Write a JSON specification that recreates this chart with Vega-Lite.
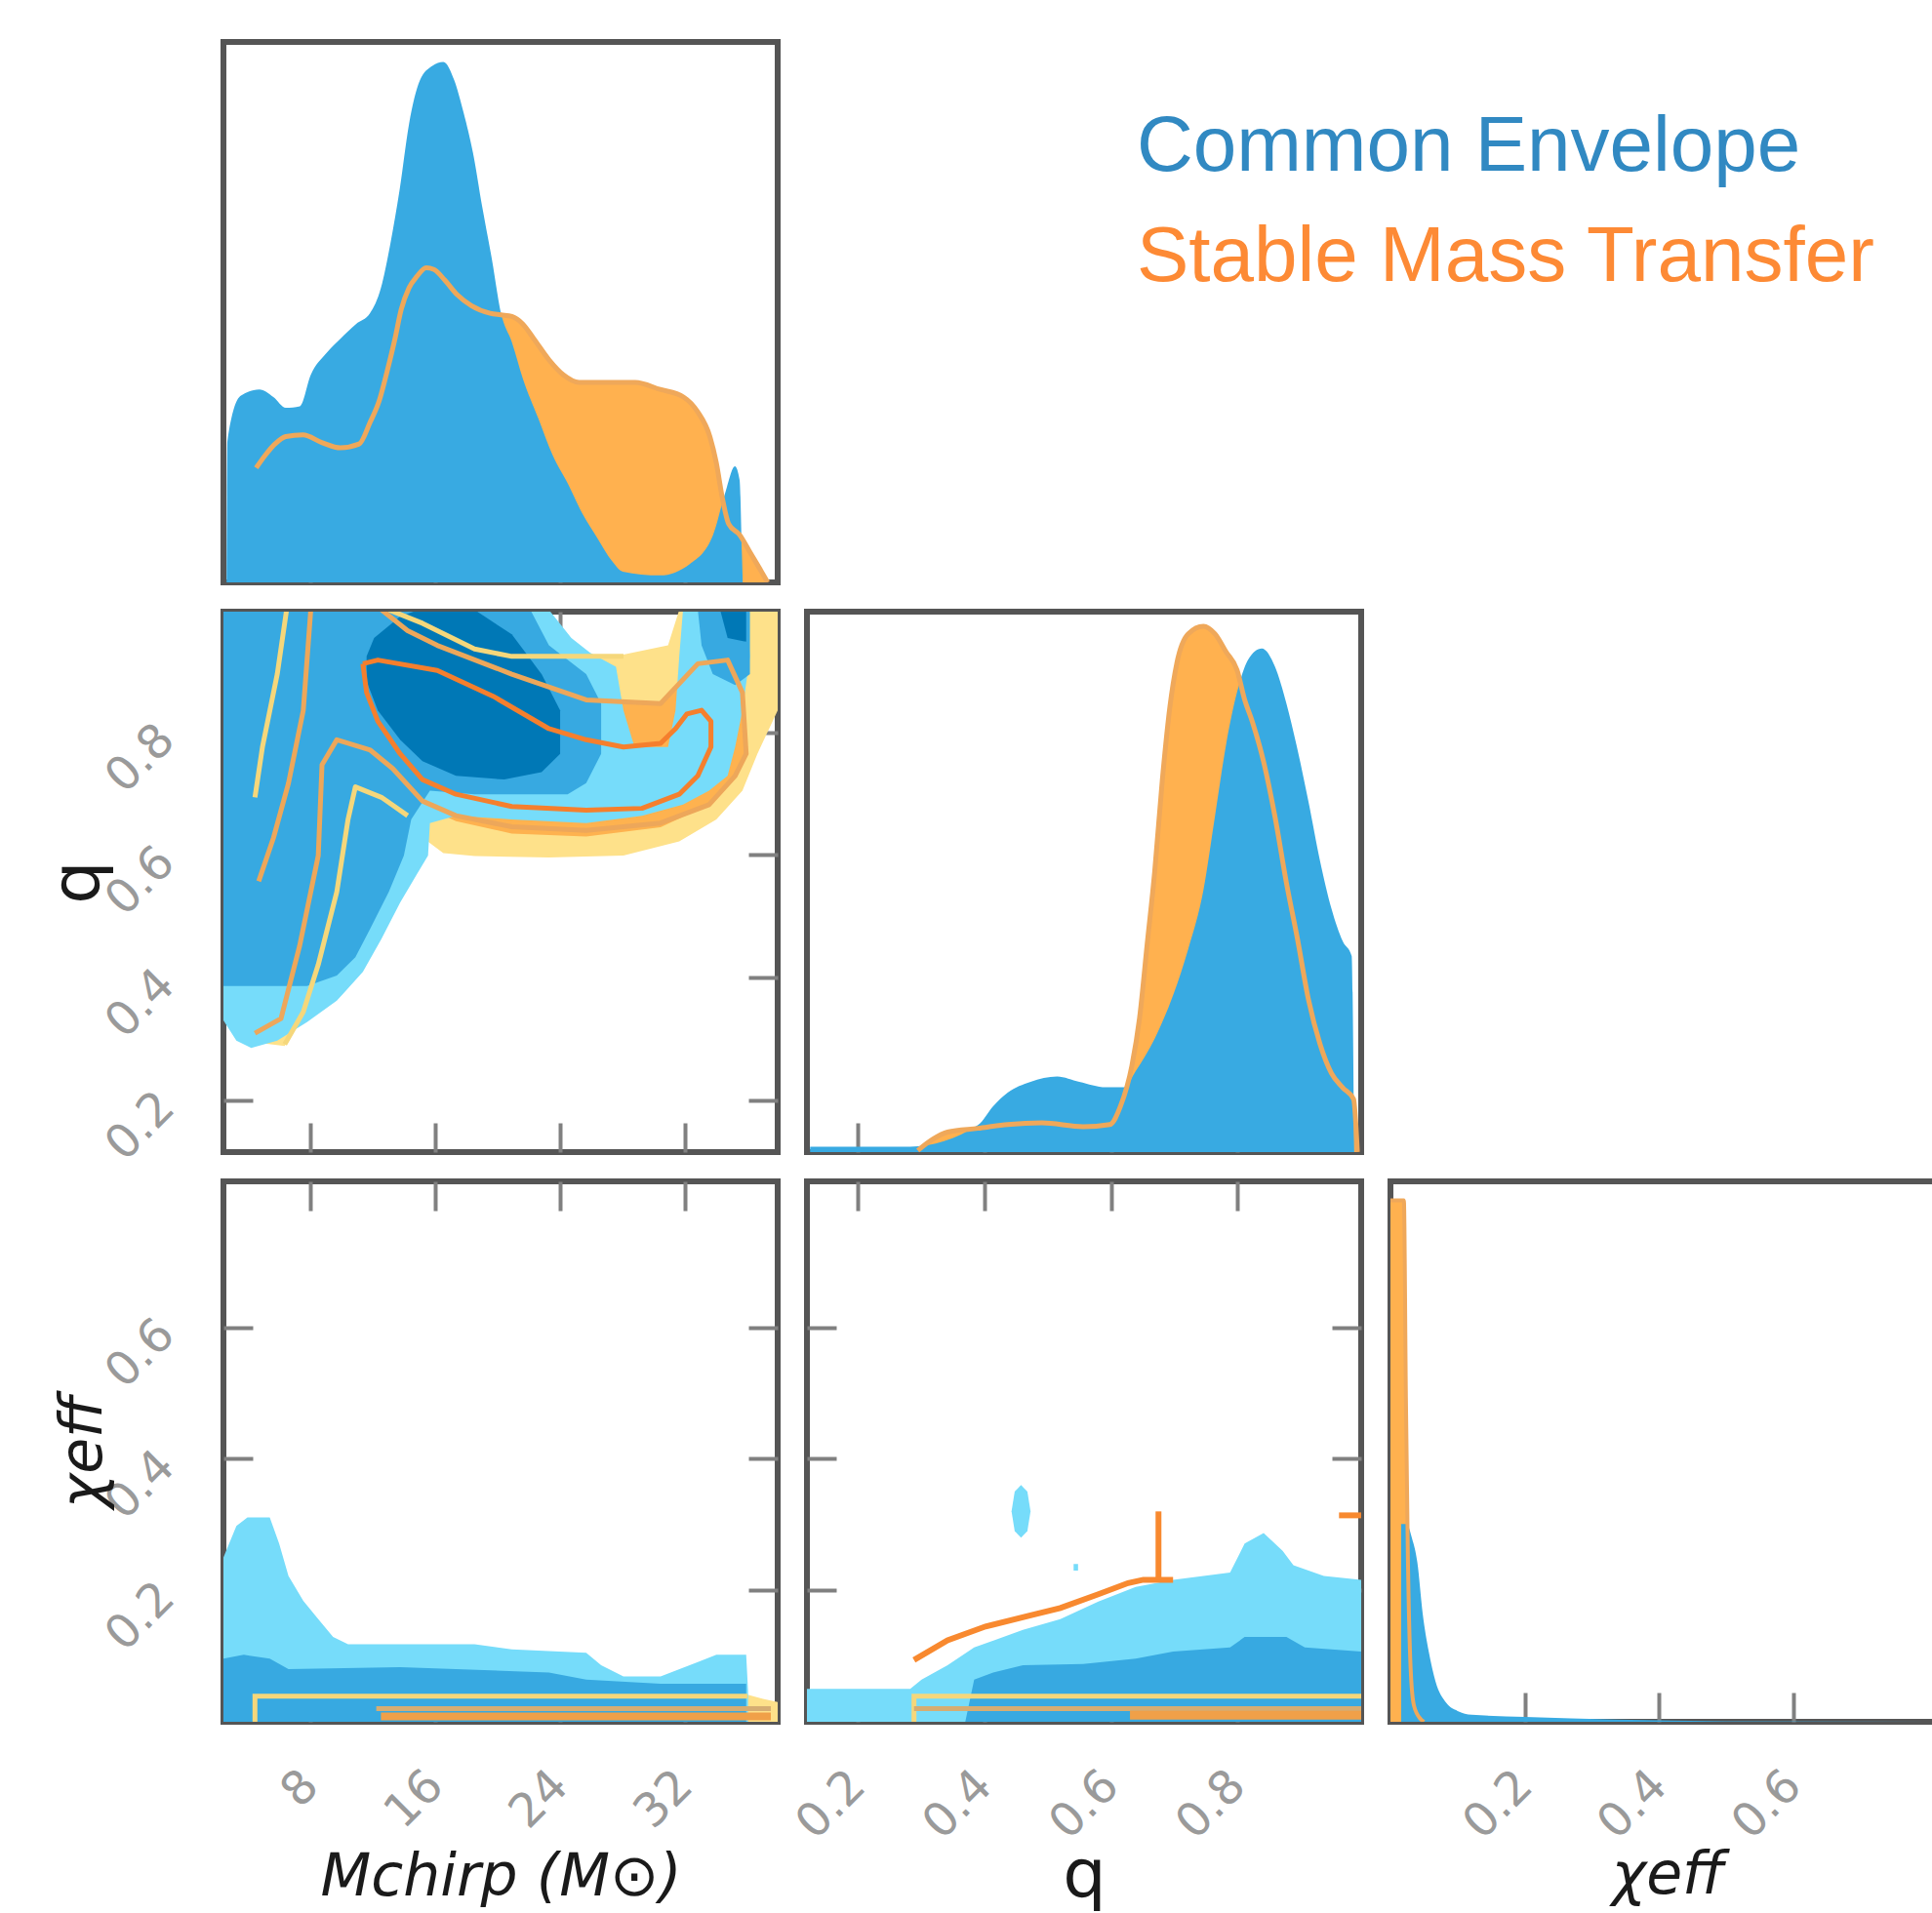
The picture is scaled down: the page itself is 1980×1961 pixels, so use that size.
{
"$schema":"https://vega.github.io/schema/vega-lite/v6.json",
"background":"white",
"autosize":{"type":"pad"},
"padding":{"left":42,"top":40,"right":0,"bottom":0},
"config":{
 "view":{"stroke":"#555555","strokeWidth":6},
 "axis":{"grid":false,"domain":false,"zindex":1,"tickSize":-30,"tickWidth":4,"tickColor":"#808080","labelColor":"#9a9a9a","labelFont":"DejaVu Sans","labelFontSize":48,"labelAngle":-45,"labelAlign":"right","labelBaseline":"middle","labelPadding":88,"labelOverlap":false,"labelFlush":false,"labelBound":false,"titleFont":"DejaVu Sans","titleFontSize":60,"titleFontWeight":"normal","titleFontStyle":"italic","titleColor":"#1a1a1a","titlePadding":10}
},
"datasets":{
 "d00ce":[{"x":2.6,"y":0},{"x":2.65,"y":0.26},{"x":3.5,"y":0.345},{"x":4.7,"y":0.357},{"x":5.6,"y":0.343},{"x":6.4,"y":0.323},{"x":7.3,"y":0.326},{"x":8.0,"y":0.384},{"x":9.0,"y":0.424},{"x":9.9,"y":0.451},{"x":10.9,"y":0.478},{"x":11.8,"y":0.498},{"x":12.5,"y":0.545},{"x":13.1,"y":0.626},{"x":13.7,"y":0.727},{"x":14.3,"y":0.848},{"x":15.0,"y":0.929},{"x":15.8,"y":0.956},{"x":16.5,"y":0.963},{"x":17.2,"y":0.929},{"x":17.8,"y":0.869},{"x":18.4,"y":0.795},{"x":19.0,"y":0.694},{"x":19.6,"y":0.6},{"x":20.2,"y":0.498},{"x":20.9,"y":0.444},{"x":21.6,"y":0.377},{"x":22.6,"y":0.303},{"x":23.5,"y":0.236},{"x":24.5,"y":0.182},{"x":25.4,"y":0.128},{"x":26.4,"y":0.081},{"x":27.3,"y":0.04},{"x":28.0,"y":0.02},{"x":30.4,"y":0.013},{"x":32.3,"y":0.034},{"x":33.8,"y":0.088},{"x":34.6,"y":0.168},{"x":35.2,"y":0.215},{"x":35.5,"y":0.189},{"x":35.65,"y":0.05},{"x":35.7,"y":0}],
 "d00smt":[{"x":4.5,"y":0.212},{"x":5.1,"y":0.236},{"x":5.7,"y":0.256},{"x":6.4,"y":0.27},{"x":7.5,"y":0.273},{"x":8.7,"y":0.259},{"x":9.9,"y":0.249},{"x":11.1,"y":0.256},{"x":11.8,"y":0.296},{"x":12.4,"y":0.337},{"x":12.9,"y":0.391},{"x":13.4,"y":0.451},{"x":13.8,"y":0.505},{"x":14.3,"y":0.545},{"x":14.8,"y":0.566},{"x":15.4,"y":0.582},{"x":15.9,"y":0.579},{"x":16.6,"y":0.559},{"x":17.4,"y":0.532},{"x":18.3,"y":0.512},{"x":19.5,"y":0.498},{"x":20.2,"y":0.495},{"x":20.9,"y":0.492},{"x":21.6,"y":0.478},{"x":22.3,"y":0.451},{"x":23.3,"y":0.411},{"x":24.2,"y":0.384},{"x":25.2,"y":0.37},{"x":26.8,"y":0.37},{"x":28.8,"y":0.37},{"x":30.4,"y":0.357},{"x":31.9,"y":0.343},{"x":32.8,"y":0.316},{"x":33.6,"y":0.269},{"x":34.0,"y":0.222},{"x":34.4,"y":0.155},{"x":34.8,"y":0.108},{"x":35.5,"y":0.088},{"x":36.2,"y":0.054},{"x":36.9,"y":0.02},{"x":37.3,"y":0}],
 "d11ce":[{"x":0.125,"y":0.01},{"x":0.283,"y":0.01},{"x":0.39,"y":0.05},{"x":0.414,"y":0.085},{"x":0.437,"y":0.11},{"x":0.473,"y":0.13},{"x":0.515,"y":0.14},{"x":0.55,"y":0.13},{"x":0.592,"y":0.12},{"x":0.621,"y":0.12},{"x":0.639,"y":0.15},{"x":0.669,"y":0.21},{"x":0.698,"y":0.29},{"x":0.722,"y":0.376},{"x":0.746,"y":0.485},{"x":0.764,"y":0.62},{"x":0.782,"y":0.756},{"x":0.799,"y":0.851},{"x":0.817,"y":0.912},{"x":0.838,"y":0.932},{"x":0.859,"y":0.898},{"x":0.877,"y":0.83},{"x":0.895,"y":0.742},{"x":0.912,"y":0.647},{"x":0.93,"y":0.539},{"x":0.948,"y":0.451},{"x":0.966,"y":0.39},{"x":0.98,"y":0.363},{"x":0.984,"y":0}],
 "d11smt":[{"x":0.295,"y":0.003},{"x":0.319,"y":0.024},{"x":0.342,"y":0.037},{"x":0.39,"y":0.044},{"x":0.437,"y":0.051},{"x":0.491,"y":0.054},{"x":0.556,"y":0.047},{"x":0.598,"y":0.051},{"x":0.615,"y":0.085},{"x":0.633,"y":0.16},{"x":0.645,"y":0.247},{"x":0.657,"y":0.383},{"x":0.669,"y":0.519},{"x":0.681,"y":0.688},{"x":0.693,"y":0.824},{"x":0.704,"y":0.905},{"x":0.722,"y":0.959},{"x":0.746,"y":0.973},{"x":0.764,"y":0.959},{"x":0.782,"y":0.925},{"x":0.799,"y":0.892},{"x":0.811,"y":0.837},{"x":0.823,"y":0.797},{"x":0.841,"y":0.722},{"x":0.859,"y":0.62},{"x":0.877,"y":0.498},{"x":0.894,"y":0.397},{"x":0.912,"y":0.281},{"x":0.93,"y":0.2},{"x":0.948,"y":0.146},{"x":0.966,"y":0.119},{"x":0.983,"y":0.098},{"x":0.989,"y":0}],
 "d22ce":[{"x":0.016,"y":0.366},{"x":0.024,"y":0.366},{"x":0.032,"y":0.34},{"x":0.04,"y":0.295},{"x":0.048,"y":0.2},{"x":0.057,"y":0.13},{"x":0.067,"y":0.075},{"x":0.083,"y":0.035},{"x":0.1,"y":0.02},{"x":0.121,"y":0.013},{"x":0.2,"y":0.009},{"x":0.337,"y":0.004},{"x":0.5,"y":0.001},{"x":0.82,"y":0}],
 "d22smt":[{"x":0,"y":0.965},{"x":0.02,"y":0.965},{"x":0.023,"y":0.6},{"x":0.026,"y":0.3},{"x":0.03,"y":0.1},{"x":0.035,"y":0.03},{"x":0.045,"y":0.005},{"x":0.05,"y":0}],
 "d10s1":[{"o":1,"x":6.57,"y":1.0},{"o":2,"x":13.01,"y":1.0},{"o":3,"x":16.11,"y":0.954},{"o":4,"x":20.89,"y":0.924},{"o":5,"x":24.47,"y":0.924},{"o":6,"x":28.05,"y":0.927},{"o":7,"x":30.91,"y":0.942},{"o":8,"x":31.63,"y":1.0},{"o":9,"x":37.94,"y":1.0},{"o":10,"x":37.94,"y":0.836},{"o":11,"x":36.64,"y":0.765},{"o":12,"x":35.68,"y":0.705},{"o":13,"x":34.01,"y":0.658},{"o":14,"x":31.63,"y":0.622},{"o":15,"x":28.05,"y":0.599},{"o":16,"x":23.27,"y":0.596},{"o":17,"x":18.5,"y":0.598},{"o":18,"x":16.5,"y":0.603},{"o":19,"x":15.6,"y":0.62},{"o":20,"x":14.21,"y":0.658},{"o":21,"x":12.53,"y":0.69},{"o":22,"x":10.86,"y":0.711},{"o":23,"x":10.39,"y":0.682},{"o":24,"x":9.67,"y":0.54},{"o":25,"x":8.48,"y":0.421},{"o":26,"x":7.52,"y":0.344},{"o":27,"x":6.33,"y":0.288},{"o":28,"x":4.42,"y":0.294},{"o":29,"x":4.18,"y":0.48},{"o":30,"x":4.42,"y":0.694},{"o":31,"x":5.85,"y":0.895}],
 "d10s2":[{"o":1,"x":8.0,"y":1.0},{"o":2,"x":12.53,"y":1.0},{"o":3,"x":14.21,"y":0.966},{"o":4,"x":16.11,"y":0.942},{"o":5,"x":20.89,"y":0.895},{"o":6,"x":25.66,"y":0.853},{"o":7,"x":30.43,"y":0.847},{"o":8,"x":32.82,"y":0.912},{"o":9,"x":34.73,"y":0.918},{"o":10,"x":35.68,"y":0.865},{"o":11,"x":35.92,"y":0.765},{"o":12,"x":35.21,"y":0.729},{"o":13,"x":33.54,"y":0.682},{"o":14,"x":30.43,"y":0.645},{"o":15,"x":25.66,"y":0.63},{"o":16,"x":20.89,"y":0.635},{"o":17,"x":17.31,"y":0.655},{"o":18,"x":15.16,"y":0.68},{"o":19,"x":13.25,"y":0.741},{"o":20,"x":11.82,"y":0.771},{"o":21,"x":9.67,"y":0.788},{"o":22,"x":8.72,"y":0.747},{"o":23,"x":8.48,"y":0.599},{"o":24,"x":7.28,"y":0.451},{"o":25,"x":6.09,"y":0.333},{"o":26,"x":4.42,"y":0.309},{"o":27,"x":4.66,"y":0.557},{"o":28,"x":5.61,"y":0.628},{"o":29,"x":6.57,"y":0.717},{"o":30,"x":7.52,"y":0.836}],
 "d10ce1":[{"o":1,"x":2.4,"y":1.0},{"o":2,"x":23.27,"y":1.0},{"o":3,"x":24.71,"y":0.954},{"o":4,"x":25.9,"y":0.93},{"o":5,"x":27.57,"y":0.907},{"o":6,"x":28.05,"y":0.836},{"o":7,"x":28.76,"y":0.776},{"o":8,"x":30.91,"y":0.776},{"o":9,"x":31.39,"y":0.836},{"o":10,"x":31.63,"y":0.924},{"o":11,"x":31.87,"y":1.0},{"o":12,"x":35.92,"y":1.0},{"o":13,"x":36.16,"y":0.924},{"o":14,"x":35.68,"y":0.836},{"o":15,"x":35.21,"y":0.776},{"o":16,"x":34.73,"y":0.729},{"o":17,"x":33.54,"y":0.705},{"o":18,"x":31.87,"y":0.682},{"o":19,"x":29.24,"y":0.664},{"o":20,"x":25.66,"y":0.652},{"o":21,"x":20.89,"y":0.658},{"o":22,"x":17.31,"y":0.664},{"o":23,"x":15.64,"y":0.652},{"o":24,"x":15.52,"y":0.599},{"o":25,"x":14.68,"y":0.563},{"o":26,"x":13.73,"y":0.522},{"o":27,"x":12.53,"y":0.463},{"o":28,"x":11.34,"y":0.409},{"o":29,"x":9.67,"y":0.362},{"o":30,"x":7.76,"y":0.327},{"o":31,"x":5.85,"y":0.297},{"o":32,"x":4.18,"y":0.285},{"o":33,"x":3.23,"y":0.297},{"o":34,"x":2.4,"y":0.33}],
 "d10ce2":[{"p":"a","o":1,"x":2.4,"y":1.0},{"p":"a","o":2,"x":22.08,"y":1.0},{"p":"a","o":3,"x":23.27,"y":0.942},{"p":"a","o":4,"x":25.66,"y":0.895},{"p":"a","o":5,"x":26.62,"y":0.847},{"p":"a","o":6,"x":26.62,"y":0.765},{"p":"a","o":7,"x":25.66,"y":0.717},{"p":"a","o":8,"x":24.47,"y":0.699},{"p":"a","o":9,"x":18.5,"y":0.699},{"p":"a","o":10,"x":15.64,"y":0.705},{"p":"a","o":11,"x":14.44,"y":0.658},{"p":"a","o":12,"x":13.97,"y":0.599},{"p":"a","o":13,"x":13.01,"y":0.54},{"p":"a","o":14,"x":11.82,"y":0.48},{"p":"a","o":15,"x":10.86,"y":0.433},{"p":"a","o":16,"x":9.67,"y":0.403},{"p":"a","o":17,"x":7.76,"y":0.386},{"p":"a","o":18,"x":5.61,"y":0.386},{"p":"a","o":19,"x":2.4,"y":0.386},
  {"p":"b","o":1,"x":32.82,"y":1.0},{"p":"b","o":2,"x":36.16,"y":1.0},{"p":"b","o":3,"x":36.16,"y":0.895},{"p":"b","o":4,"x":35.21,"y":0.877},{"p":"b","o":5,"x":33.78,"y":0.895},{"p":"b","o":6,"x":33.06,"y":0.942}],
 "d10ce3":[{"p":"a","o":1,"x":11.58,"y":0.924},{"p":"a","o":2,"x":12.06,"y":0.954},{"p":"a","o":3,"x":13.73,"y":0.989},{"p":"a","o":4,"x":14.92,"y":1.0},{"p":"a","o":5,"x":18.5,"y":1.0},{"p":"a","o":6,"x":20.89,"y":0.96},{"p":"a","o":7,"x":22.8,"y":0.895},{"p":"a","o":8,"x":23.99,"y":0.836},{"p":"a","o":9,"x":23.99,"y":0.765},{"p":"a","o":10,"x":22.8,"y":0.735},{"p":"a","o":11,"x":20.41,"y":0.723},{"p":"a","o":12,"x":17.31,"y":0.729},{"p":"a","o":13,"x":15.16,"y":0.753},{"p":"a","o":14,"x":13.73,"y":0.788},{"p":"a","o":15,"x":12.3,"y":0.836},{"p":"a","o":16,"x":11.58,"y":0.883},
  {"p":"b","o":1,"x":34.25,"y":1.0},{"p":"b","o":2,"x":35.92,"y":1.0},{"p":"b","o":3,"x":35.92,"y":0.948},{"p":"b","o":4,"x":34.73,"y":0.954}],
 "d10ly":[{"p":"A","o":1,"x":6.45,"y":1.0},{"p":"A","o":2,"x":5.85,"y":0.895},{"p":"A","o":3,"x":4.9,"y":0.776},{"p":"A","o":4,"x":4.42,"y":0.694},
  {"p":"B","o":1,"x":13.01,"y":1.0},{"p":"B","o":2,"x":15.16,"y":0.978},{"p":"B","o":3,"x":18.5,"y":0.936},{"p":"B","o":4,"x":20.89,"y":0.924},{"p":"B","o":5,"x":28.05,"y":0.924},
  {"p":"C","o":1,"x":14.21,"y":0.664},{"p":"C","o":2,"x":12.53,"y":0.694},{"p":"C","o":3,"x":10.86,"y":0.711},{"p":"C","o":4,"x":10.39,"y":0.658},{"p":"C","o":5,"x":9.67,"y":0.54},{"p":"C","o":6,"x":8.48,"y":0.421},{"p":"C","o":7,"x":7.52,"y":0.344},{"p":"C","o":8,"x":6.33,"y":0.291}],
 "d10lt":[{"p":"D","o":1,"x":8.0,"y":1.0},{"p":"D","o":2,"x":7.52,"y":0.836},{"p":"D","o":3,"x":6.57,"y":0.717},{"p":"D","o":4,"x":5.61,"y":0.628},{"p":"D","o":5,"x":4.66,"y":0.557},
  {"p":"E","o":2,"x":12.53,"y":1.0},{"p":"E","o":3,"x":14.21,"y":0.966},{"p":"E","o":4,"x":16.11,"y":0.942},{"p":"E","o":5,"x":20.89,"y":0.895},{"p":"E","o":6,"x":25.66,"y":0.853},{"p":"E","o":7,"x":30.43,"y":0.847},{"p":"E","o":8,"x":32.82,"y":0.912},{"p":"E","o":9,"x":34.73,"y":0.918},{"p":"E","o":10,"x":35.68,"y":0.865},{"p":"E","o":11,"x":35.92,"y":0.765},{"p":"E","o":12,"x":35.21,"y":0.729},{"p":"E","o":13,"x":33.54,"y":0.682},{"p":"E","o":14,"x":30.43,"y":0.652},{"p":"E","o":15,"x":25.66,"y":0.64},{"p":"E","o":16,"x":20.89,"y":0.646},{"p":"E","o":17,"x":17.31,"y":0.664},{"p":"E","o":18,"x":15.16,"y":0.688},{"p":"E","o":19,"x":13.25,"y":0.741},{"p":"E","o":20,"x":11.82,"y":0.771},{"p":"E","o":21,"x":9.67,"y":0.788},{"p":"E","o":22,"x":8.72,"y":0.747},{"p":"E","o":23,"x":8.48,"y":0.599},{"p":"E","o":24,"x":7.28,"y":0.451},{"p":"E","o":25,"x":6.09,"y":0.333},{"p":"E","o":26,"x":4.42,"y":0.309}],
 "d10lo":[{"o":1,"x":11.34,"y":0.912},{"o":2,"x":12.3,"y":0.918},{"o":3,"x":16.11,"y":0.901},{"o":4,"x":19.69,"y":0.859},{"o":5,"x":23.27,"y":0.806},{"o":6,"x":25.66,"y":0.788},{"o":7,"x":28.05,"y":0.776},{"o":8,"x":30.43,"y":0.782},{"o":9,"x":31.39,"y":0.806},{"o":10,"x":32.11,"y":0.83},{"o":11,"x":33.06,"y":0.836},{"o":12,"x":33.66,"y":0.818},{"o":13,"x":33.66,"y":0.776},{"o":14,"x":32.82,"y":0.729},{"o":15,"x":31.63,"y":0.699},{"o":16,"x":29.24,"y":0.676},{"o":17,"x":25.66,"y":0.673},{"o":18,"x":20.89,"y":0.679},{"o":19,"x":17.31,"y":0.699},{"o":20,"x":15.16,"y":0.723},{"o":21,"x":13.73,"y":0.765},{"o":22,"x":12.3,"y":0.818},{"o":23,"x":11.58,"y":0.865},{"o":24,"x":11.34,"y":0.912}],
 "d20s1":[{"o":1,"x":4.42,"y":0},{"o":2,"x":4.42,"y":0.042},{"o":3,"x":35.9,"y":0.042},{"o":4,"x":37.0,"y":0.035},{"o":5,"x":37.94,"y":0.03},{"o":6,"x":37.94,"y":0}],
 "d20ce1":[{"o":1,"x":2.4,"y":0.25},{"o":2,"x":3.23,"y":0.298},{"o":3,"x":3.94,"y":0.311},{"o":4,"x":5.37,"y":0.311},{"o":5,"x":5.97,"y":0.271},{"o":6,"x":6.57,"y":0.222},{"o":7,"x":7.52,"y":0.184},{"o":8,"x":8.48,"y":0.156},{"o":9,"x":9.43,"y":0.129},{"o":10,"x":10.39,"y":0.118},{"o":11,"x":13.73,"y":0.118},{"o":12,"x":18.5,"y":0.118},{"o":13,"x":20.89,"y":0.11},{"o":14,"x":25.66,"y":0.105},{"o":15,"x":26.62,"y":0.086},{"o":16,"x":28.05,"y":0.069},{"o":17,"x":30.43,"y":0.069},{"o":18,"x":32.82,"y":0.091},{"o":19,"x":34.01,"y":0.102},{"o":20,"x":35.92,"y":0.102},{"o":21,"x":36.04,"y":0.047},{"o":22,"x":36.04,"y":0},{"o":23,"x":2.4,"y":0}],
 "d20ce2":[{"o":1,"x":2.4,"y":0.096},{"o":2,"x":3.7,"y":0.102},{"o":3,"x":5.37,"y":0.096},{"o":4,"x":6.57,"y":0.08},{"o":5,"x":13.73,"y":0.083},{"o":6,"x":23.27,"y":0.075},{"o":7,"x":25.66,"y":0.064},{"o":8,"x":30.43,"y":0.058},{"o":9,"x":35.92,"y":0.058},{"o":10,"x":35.92,"y":0},{"o":11,"x":2.4,"y":0}],
 "d20ly":[{"o":1,"x":4.42,"y":0},{"o":2,"x":4.42,"y":0.039},{"o":3,"x":36.0,"y":0.039}],
 "d20lt":[{"o":1,"x":12.2,"y":0.02},{"o":2,"x":37.5,"y":0.02}],
 "d20lo":[{"o":1,"x":12.5,"y":0.008},{"o":2,"x":37.5,"y":0.008}],
 "d21s1":[{"o":1,"x":0.289,"y":0},{"o":2,"x":0.289,"y":0.042},{"o":3,"x":0.995,"y":0.042},{"o":4,"x":0.995,"y":0}],
 "d21ce1":[{"p":"m","o":1,"x":0.12,"y":0},{"p":"m","o":2,"x":0.12,"y":0.05},{"p":"m","o":3,"x":0.283,"y":0.05},{"p":"m","o":4,"x":0.301,"y":0.064},{"p":"m","o":5,"x":0.342,"y":0.086},{"p":"m","o":6,"x":0.384,"y":0.113},{"p":"m","o":7,"x":0.461,"y":0.14},{"p":"m","o":8,"x":0.52,"y":0.156},{"p":"m","o":9,"x":0.58,"y":0.183},{"p":"m","o":10,"x":0.639,"y":0.205},{"p":"m","o":11,"x":0.698,"y":0.216},{"p":"m","o":12,"x":0.788,"y":0.227},{"p":"m","o":13,"x":0.811,"y":0.271},{"p":"m","o":14,"x":0.841,"y":0.287},{"p":"m","o":15,"x":0.871,"y":0.26},{"p":"m","o":16,"x":0.888,"y":0.238},{"p":"m","o":17,"x":0.936,"y":0.222},{"p":"m","o":18,"x":0.995,"y":0.216},{"p":"m","o":19,"x":0.995,"y":0},
  {"p":"b","o":1,"x":0.458,"y":0.36},{"p":"b","o":2,"x":0.468,"y":0.35},{"p":"b","o":3,"x":0.473,"y":0.32},{"p":"b","o":4,"x":0.468,"y":0.29},{"p":"b","o":5,"x":0.458,"y":0.28},{"p":"b","o":6,"x":0.448,"y":0.29},{"p":"b","o":7,"x":0.443,"y":0.32},{"p":"b","o":8,"x":0.448,"y":0.35},
  {"p":"d","o":1,"x":0.541,"y":0.24},{"p":"d","o":2,"x":0.548,"y":0.24},{"p":"d","o":3,"x":0.548,"y":0.23},{"p":"d","o":4,"x":0.541,"y":0.23}],
 "d21ce2":[{"o":1,"x":0.37,"y":0},{"o":2,"x":0.384,"y":0.064},{"o":3,"x":0.414,"y":0.075},{"o":4,"x":0.461,"y":0.086},{"o":5,"x":0.556,"y":0.088},{"o":6,"x":0.639,"y":0.096},{"o":7,"x":0.698,"y":0.107},{"o":8,"x":0.788,"y":0.113},{"o":9,"x":0.811,"y":0.129},{"o":10,"x":0.877,"y":0.129},{"o":11,"x":0.906,"y":0.113},{"o":12,"x":0.995,"y":0.107},{"o":13,"x":0.995,"y":0}],
 "d21ly":[{"o":1,"x":0.289,"y":0},{"o":2,"x":0.289,"y":0.039},{"o":3,"x":0.995,"y":0.039}],
 "d21lt":[{"o":1,"x":0.289,"y":0.02},{"o":2,"x":0.995,"y":0.02}],
 "d21lob":[{"o":1,"x":0.63,"y":0.01},{"o":2,"x":0.995,"y":0.01}],
 "d21lo":[{"p":"g","o":1,"x":0.289,"y":0.094},{"p":"g","o":2,"x":0.342,"y":0.124},{"p":"g","o":3,"x":0.402,"y":0.145},{"p":"g","o":4,"x":0.473,"y":0.162},{"p":"g","o":5,"x":0.52,"y":0.173},{"p":"g","o":6,"x":0.58,"y":0.194},{"p":"g","o":7,"x":0.627,"y":0.211},{"p":"g","o":8,"x":0.651,"y":0.216},{"p":"g","o":9,"x":0.698,"y":0.216},
  {"p":"v","o":1,"x":0.675,"y":0.32},{"p":"v","o":2,"x":0.675,"y":0.216},
  {"p":"s","o":1,"x":0.96,"y":0.314},{"p":"s","o":2,"x":0.995,"y":0.314}],
 "legend":[{"t":"Common Envelope","px":0.595,"py":0.761,"c":"CE"},{"t":"Stable Mass Transfer","px":0.595,"py":0.557,"c":"SMT"}]
},
"columns":3,
"spacing":{"row":30,"column":30},
"bounds":"flush",
"concat":[
 {"width":568,"height":554,
  "resolve":{"axis":{"x":"independent","y":"independent"}},
  "layer":[
   {"data":{"name":"d00smt"},"mark":{"type":"area","color":"#ffb14f","interpolate":"monotone","clip":true},
    "encoding":{"x":{"field":"x","type":"quantitative","scale":{"domain":[2.4,37.94],"nice":false,"zero":false},"axis":{"orient":"bottom","values":[8,16,24,32],"labels":false,"title":null}},
                "y":{"field":"y","type":"quantitative","scale":{"domain":[0,1],"nice":false},"axis":null}}},
   {"data":{"name":"d00ce"},"mark":{"type":"area","color":"#38aae2","interpolate":"monotone","clip":true},
    "encoding":{"x":{"field":"x","type":"quantitative","axis":null},"y":{"field":"y","type":"quantitative","axis":null}}},
   {"data":{"name":"d00smt"},"mark":{"type":"line","color":"#efa85a","strokeWidth":5,"interpolate":"monotone","clip":true},
    "encoding":{"x":{"field":"x","type":"quantitative","axis":null},"y":{"field":"y","type":"quantitative","axis":null}}}
  ]},
 {"width":568,"height":554,"view":{"stroke":null},
  "data":{"name":"legend"},
  "mark":{"type":"text","align":"left","baseline":"alphabetic","font":"Liberation Sans","fontSize":80},
  "encoding":{"x":{"field":"px","type":"quantitative","scale":{"domain":[0,1]},"axis":null},
              "y":{"field":"py","type":"quantitative","scale":{"domain":[0,1]},"axis":null},
              "text":{"field":"t"},
              "color":{"field":"c","type":"nominal","scale":{"domain":["CE","SMT"],"range":["#3189c2","#fd8a35"]},"legend":null}}},
 {"width":568,"height":554,"view":{"stroke":null},"data":{"values":[]},"mark":"point"},
 {"width":568,"height":554,
  "resolve":{"axis":{"x":"independent","y":"independent"}},
  "layer":[
   {"data":{"name":"d10s1"},"mark":{"type":"line","filled":true,"color":"#fee18a","clip":true},
    "encoding":{"x":{"field":"x","type":"quantitative","scale":{"domain":[2.4,37.94],"nice":false,"zero":false},"axis":{"orient":"bottom","values":[8,16,24,32],"labels":false,"title":null}},
                "y":{"field":"y","type":"quantitative","scale":{"domain":[0.115,0.997],"nice":false,"zero":false},"axis":{"orient":"left","values":[0.2,0.4,0.6,0.8],"format":".1f","title":"q","titleFontStyle":"normal","titleFontSize":70,"titlePadding":-16}},
                "order":{"field":"o"}}},
   {"data":{"name":"d10s2"},"mark":{"type":"line","filled":true,"color":"#feb24f","clip":true},
    "encoding":{"x":{"field":"x","type":"quantitative","axis":null},"y":{"field":"y","type":"quantitative","axis":null},"order":{"field":"o"}}},
   {"data":{"name":"d10ce1"},"mark":{"type":"line","filled":true,"color":"#76dcfa","clip":true},
    "encoding":{"x":{"field":"x","type":"quantitative","axis":null},"y":{"field":"y","type":"quantitative","axis":null},"order":{"field":"o"}}},
   {"data":{"name":"d10ce2"},"mark":{"type":"line","filled":true,"color":"#37a9e1","clip":true},
    "encoding":{"x":{"field":"x","type":"quantitative","axis":null},"y":{"field":"y","type":"quantitative","axis":null},"order":{"field":"o"},"detail":{"field":"p"}}},
   {"data":{"name":"d10ce3"},"mark":{"type":"line","filled":true,"color":"#0078b6","clip":true},
    "encoding":{"x":{"field":"x","type":"quantitative","axis":null},"y":{"field":"y","type":"quantitative","axis":null},"order":{"field":"o"},"detail":{"field":"p"}}},
   {"data":{"name":"d10ly"},"mark":{"type":"line","color":"#f5d77b","strokeWidth":5,"strokeJoin":"round","clip":true},
    "encoding":{"x":{"field":"x","type":"quantitative","axis":null},"y":{"field":"y","type":"quantitative","axis":null},"order":{"field":"o"},"detail":{"field":"p"}}},
   {"data":{"name":"d10lt"},"mark":{"type":"line","color":"#eda75a","strokeWidth":5,"strokeJoin":"round","clip":true},
    "encoding":{"x":{"field":"x","type":"quantitative","axis":null},"y":{"field":"y","type":"quantitative","axis":null},"order":{"field":"o"},"detail":{"field":"p"}}},
   {"data":{"name":"d10lo"},"mark":{"type":"line","color":"#f57f2d","strokeWidth":5,"strokeJoin":"round","clip":true},
    "encoding":{"x":{"field":"x","type":"quantitative","axis":{"orient":"top","values":[8,16,24,32],"labels":false,"title":null}},
                "y":{"field":"y","type":"quantitative","axis":{"orient":"right","values":[0.2,0.4,0.6,0.8],"labels":false,"title":null}},
                "order":{"field":"o"}}}
  ]},
 {"width":568,"height":554,
  "resolve":{"axis":{"x":"independent","y":"independent"}},
  "layer":[
   {"data":{"name":"d11smt"},"mark":{"type":"area","color":"#ffb14f","interpolate":"monotone","clip":true},
    "encoding":{"x":{"field":"x","type":"quantitative","scale":{"domain":[0.12,0.995],"nice":false,"zero":false},"axis":{"orient":"bottom","values":[0.2,0.4,0.6,0.8],"labels":false,"title":null}},
                "y":{"field":"y","type":"quantitative","scale":{"domain":[0,1],"nice":false},"axis":null}}},
   {"data":{"name":"d11ce"},"mark":{"type":"area","color":"#38aae2","interpolate":"monotone","clip":true},
    "encoding":{"x":{"field":"x","type":"quantitative","axis":null},"y":{"field":"y","type":"quantitative","axis":null}}},
   {"data":{"name":"d11smt"},"mark":{"type":"line","color":"#efa85a","strokeWidth":5,"interpolate":"monotone","clip":true},
    "encoding":{"x":{"field":"x","type":"quantitative","axis":null},"y":{"field":"y","type":"quantitative","axis":null}}}
  ]},
 {"width":568,"height":554,"view":{"stroke":null},"data":{"values":[]},"mark":"point"},
 {"width":568,"height":554,
  "resolve":{"axis":{"x":"independent","y":"independent"}},
  "layer":[
   {"data":{"name":"d20s1"},"mark":{"type":"line","filled":true,"color":"#fee18a","clip":true},
    "encoding":{"x":{"field":"x","type":"quantitative","scale":{"domain":[2.4,37.94],"nice":false,"zero":false},"axis":{"orient":"bottom","values":[8,16,24,32],"format":"d","title":"Mchirp (M⊙)","titlePadding":12}},
                "y":{"field":"y","type":"quantitative","scale":{"domain":[0,0.822],"nice":false,"zero":false},"axis":{"orient":"left","values":[0.2,0.4,0.6],"format":".1f","title":"χeff","titlePadding":-16}},
                "order":{"field":"o"}}},
   {"data":{"name":"d20ce1"},"mark":{"type":"line","filled":true,"color":"#76dcfa","clip":true},
    "encoding":{"x":{"field":"x","type":"quantitative","axis":null},"y":{"field":"y","type":"quantitative","axis":null},"order":{"field":"o"}}},
   {"data":{"name":"d20ce2"},"mark":{"type":"line","filled":true,"color":"#37a9e1","clip":true},
    "encoding":{"x":{"field":"x","type":"quantitative","axis":null},"y":{"field":"y","type":"quantitative","axis":null},"order":{"field":"o"}}},
   {"data":{"name":"d20ly"},"mark":{"type":"line","color":"#f5d77b","strokeWidth":5,"clip":true},
    "encoding":{"x":{"field":"x","type":"quantitative","axis":null},"y":{"field":"y","type":"quantitative","axis":null},"order":{"field":"o"}}},
   {"data":{"name":"d20lt"},"mark":{"type":"line","color":"#d6ad72","strokeWidth":5,"clip":true},
    "encoding":{"x":{"field":"x","type":"quantitative","axis":null},"y":{"field":"y","type":"quantitative","axis":null},"order":{"field":"o"}}},
   {"data":{"name":"d20lo"},"mark":{"type":"line","color":"#f0a048","strokeWidth":8,"clip":true},
    "encoding":{"x":{"field":"x","type":"quantitative","axis":{"orient":"top","values":[8,16,24,32],"labels":false,"title":null}},
                "y":{"field":"y","type":"quantitative","axis":{"orient":"right","values":[0.2,0.4,0.6],"labels":false,"title":null}},
                "order":{"field":"o"}}}
  ]},
 {"width":568,"height":554,
  "resolve":{"axis":{"x":"independent","y":"independent"}},
  "layer":[
   {"data":{"name":"d21s1"},"mark":{"type":"line","filled":true,"color":"#fee18a","clip":true},
    "encoding":{"x":{"field":"x","type":"quantitative","scale":{"domain":[0.12,0.995],"nice":false,"zero":false},"axis":{"orient":"bottom","values":[0.2,0.4,0.6,0.8],"format":".1f","title":"q","titleFontStyle":"normal","titleFontSize":70,"titlePadding":-4}},
                "y":{"field":"y","type":"quantitative","scale":{"domain":[0,0.822],"nice":false,"zero":false},"axis":{"orient":"left","values":[0.2,0.4,0.6],"labels":false,"title":null}},
                "order":{"field":"o"}}},
   {"data":{"name":"d21ce1"},"mark":{"type":"line","filled":true,"color":"#76dcfa","clip":true},
    "encoding":{"x":{"field":"x","type":"quantitative","axis":null},"y":{"field":"y","type":"quantitative","axis":null},"order":{"field":"o"},"detail":{"field":"p"}}},
   {"data":{"name":"d21ce2"},"mark":{"type":"line","filled":true,"color":"#37a9e1","clip":true},
    "encoding":{"x":{"field":"x","type":"quantitative","axis":null},"y":{"field":"y","type":"quantitative","axis":null},"order":{"field":"o"}}},
   {"data":{"name":"d21ly"},"mark":{"type":"line","color":"#f5d77b","strokeWidth":5,"clip":true},
    "encoding":{"x":{"field":"x","type":"quantitative","axis":null},"y":{"field":"y","type":"quantitative","axis":null},"order":{"field":"o"}}},
   {"data":{"name":"d21lt"},"mark":{"type":"line","color":"#d6ad72","strokeWidth":5,"clip":true},
    "encoding":{"x":{"field":"x","type":"quantitative","axis":null},"y":{"field":"y","type":"quantitative","axis":null},"order":{"field":"o"}}},
   {"data":{"name":"d21lob"},"mark":{"type":"line","color":"#f0a048","strokeWidth":9,"clip":true},
    "encoding":{"x":{"field":"x","type":"quantitative","axis":null},"y":{"field":"y","type":"quantitative","axis":null},"order":{"field":"o"}}},
   {"data":{"name":"d21lo"},"mark":{"type":"line","color":"#f8892f","strokeWidth":6,"clip":true},
    "encoding":{"x":{"field":"x","type":"quantitative","axis":{"orient":"top","values":[0.2,0.4,0.6,0.8],"labels":false,"title":null}},
                "y":{"field":"y","type":"quantitative","axis":{"orient":"right","values":[0.2,0.4,0.6],"labels":false,"title":null}},
                "order":{"field":"o"},"detail":{"field":"p"}}}
  ]},
 {"width":568,"height":554,
  "resolve":{"axis":{"x":"independent","y":"independent"}},
  "layer":[
   {"data":{"name":"d22smt"},"mark":{"type":"area","color":"#ffb14f","interpolate":"monotone","clip":true},
    "encoding":{"x":{"field":"x","type":"quantitative","scale":{"domain":[0,0.825],"nice":false,"zero":false},"axis":{"orient":"bottom","values":[0.2,0.4,0.6],"format":".1f","title":"χeff","titlePadding":0}},
                "y":{"field":"y","type":"quantitative","scale":{"domain":[0,1],"nice":false},"axis":null}}},
   {"data":{"name":"d22ce"},"mark":{"type":"area","color":"#38aae2","interpolate":"monotone","clip":true},
    "encoding":{"x":{"field":"x","type":"quantitative","axis":null},"y":{"field":"y","type":"quantitative","axis":null}}},
   {"data":{"name":"d22smt"},"mark":{"type":"line","color":"#efa85a","strokeWidth":4,"interpolate":"monotone","clip":true},
    "encoding":{"x":{"field":"x","type":"quantitative","axis":null},"y":{"field":"y","type":"quantitative","axis":null}}}
  ]}
]
}
